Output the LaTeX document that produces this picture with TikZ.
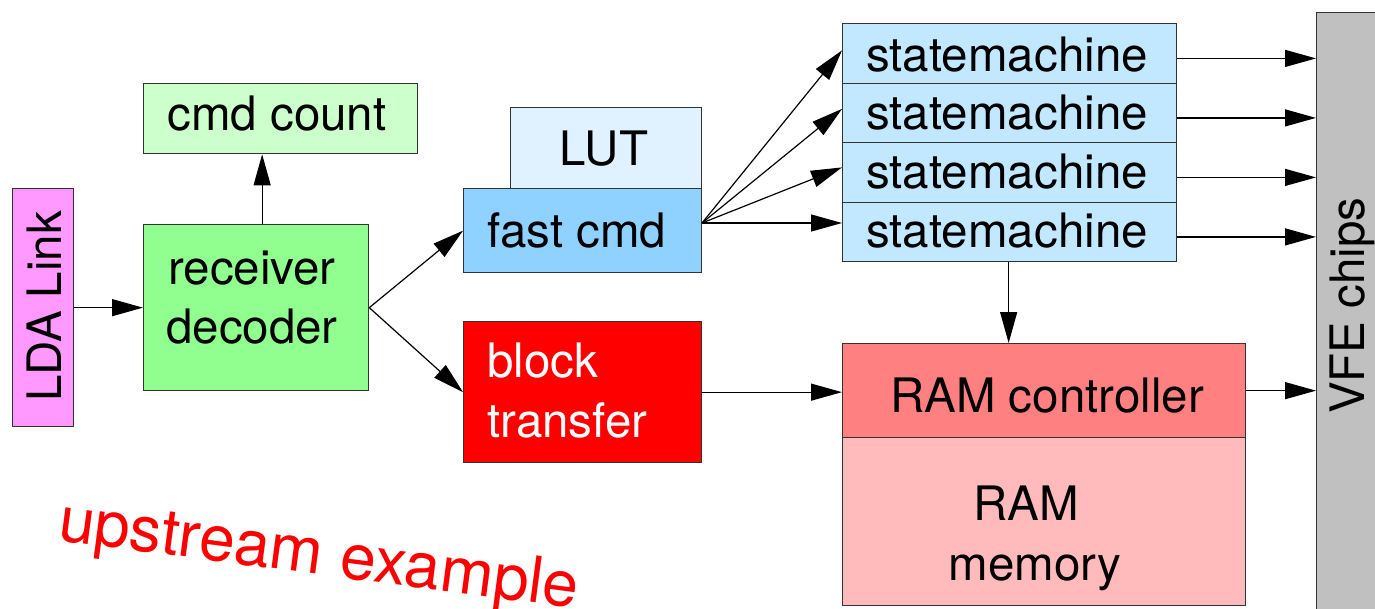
\documentclass[tikz,border=0pt]{standalone}
\usepackage{fontspec}
\setmainfont{TeX Gyre Heros}
\usetikzlibrary{arrows.meta}
\definecolor{ccfill}{HTML}{CCFFCC}
\definecolor{rdfill}{HTML}{90FF90}
\definecolor{ldafill}{HTML}{FF99FF}
\definecolor{lutfill}{HTML}{E0F2FF}
\definecolor{fcfill}{HTML}{90D2FF}
\definecolor{smfill}{HTML}{C2E8FF}
\definecolor{btfill}{HTML}{FF0000}
\definecolor{rcfill}{HTML}{FF8080}
\definecolor{rmfill}{HTML}{FFBBBB}
\definecolor{vfefill}{HTML}{C0C0C0}
\definecolor{edge}{HTML}{333333}
\begin{document}
\begin{tikzpicture}[x=1pt,y=-1pt,
  box/.style={draw=edge,line width=1.3pt,rectangle,inner sep=0pt,anchor=north west},
  lbl/.style={inner sep=0pt,anchor=base,font=\fontsize{47.5}{50}\selectfont},
  arr/.style={draw=black,line width=1.2pt,-{Triangle[length=31pt,width=17pt]}}]
\useasboundingbox (0,0) rectangle (1375,608);
\clip (0,0) rectangle (1375,608);
% boxes
\node[box,fill=ldafill,minimum width=61pt,minimum height=238pt] (lda) at (12,188) {};
\node[box,fill=ccfill,minimum width=274pt,minimum height=70pt] (cc) at (143,83) {};
\node[box,fill=rdfill,minimum width=225pt,minimum height=166pt] (rd) at (143,224) {};
\node[box,fill=lutfill,minimum width=191pt,minimum height=81pt] (lut) at (510,107) {};
\node[box,fill=fcfill,minimum width=238pt,minimum height=84pt] (fc) at (463,188) {};
\node[box,fill=btfill,minimum width=238pt,minimum height=141pt] (bt) at (463,321) {};
\node[box,fill=smfill,minimum width=334pt,minimum height=59.5pt] (sm1) at (842,23) {};
\node[box,fill=smfill,minimum width=334pt,minimum height=59.5pt] (sm2) at (842,82.5) {};
\node[box,fill=smfill,minimum width=334pt,minimum height=59.5pt] (sm3) at (842,142) {};
\node[box,fill=smfill,minimum width=334pt,minimum height=59.5pt] (sm4) at (842,201.5) {};
\node[box,fill=rcfill,minimum width=403pt,minimum height=94pt] (rc) at (842,343) {};
\node[box,fill=rmfill,minimum width=403pt,minimum height=168pt] (rm) at (842,437) {};
\node[box,fill=vfefill,minimum width=80pt,minimum height=620pt] (vfe) at (1316,12) {};
% labels
\node[lbl,rotate=90,anchor=base west] (tlda) at (61,402) {LDA Link};
\node[lbl] (tcc) at (277,130) {cmd count};
\node[lbl] (trd1) at (252,284) {receiver};
\node[lbl] (trd2) at (252,343) {decoder};
\node[lbl] (tlut) at (604,165) {LUT};
\node[lbl] (tfc) at (577,247) {fast cmd};
\node[lbl] (tsm1) at (1007,71) {statemachine};
\node[lbl] (tsm2) at (1007,129) {statemachine};
\node[lbl] (tsm3) at (1007,188) {statemachine};
\node[lbl] (tsm4) at (1007,247) {statemachine};
\node[lbl,anchor=base west,text=white] (tbt1) at (487,377) {block};
\node[lbl,anchor=base west,text=white] (tbt2) at (487,437) {transfer};
\node[lbl] (trc) at (1047,412) {RAM controller};
\node[lbl] (trm1) at (1026,520) {RAM};
\node[lbl] (trm2) at (1035,580) {memory};
\node[lbl,rotate=90,anchor=base west] (tvfe) at (1364,414) {VFE chips};
\node[inner sep=0pt,anchor=base west,rotate=-7.5,text=red,font=\fontsize{64}{68}\selectfont] (tup) at (57,540) {upstream example};
% connectors
\coordinate (fcout) at (702,223);
\draw[arr] (lda.east) -- (rd.west);
\draw[arr] ([xshift=6pt]rd.north) -- ([xshift=6pt]rd.north |- cc.south);
\draw[arr] (rd.east) -- (fc.west);
\draw[arr] (rd.east) -- (bt.west);
\draw[arr] (fcout) -- ([yshift=3pt]sm1.west);
\draw[arr] (fcout) -- ([yshift=4pt]sm2.west);
\draw[arr] (fcout) -- ([yshift=5pt]sm3.west);
\draw[arr] (fcout) -- (fcout -| sm4.west);
\draw[arr] ([yshift=-5pt]sm1.east) -- ([yshift=-5pt]sm1.east -| vfe.west);
\draw[arr] ([yshift=-5pt]sm2.east) -- ([yshift=-5pt]sm2.east -| vfe.west);
\draw[arr] ([yshift=-5pt]sm3.east) -- ([yshift=-5pt]sm3.east -| vfe.west);
\draw[arr] ([yshift=-5pt]sm4.east) -- ([yshift=-5pt]sm4.east -| vfe.west);
\draw[arr] ([xshift=-1pt]sm4.south) -- ([xshift=-1pt]sm4.south |- rc.north);
\draw[arr] (bt.east) -- (bt.east -| rc.west);
\draw[arr] (rc.east) -- (rc.east -| vfe.west);
\end{tikzpicture}
\end{document}
